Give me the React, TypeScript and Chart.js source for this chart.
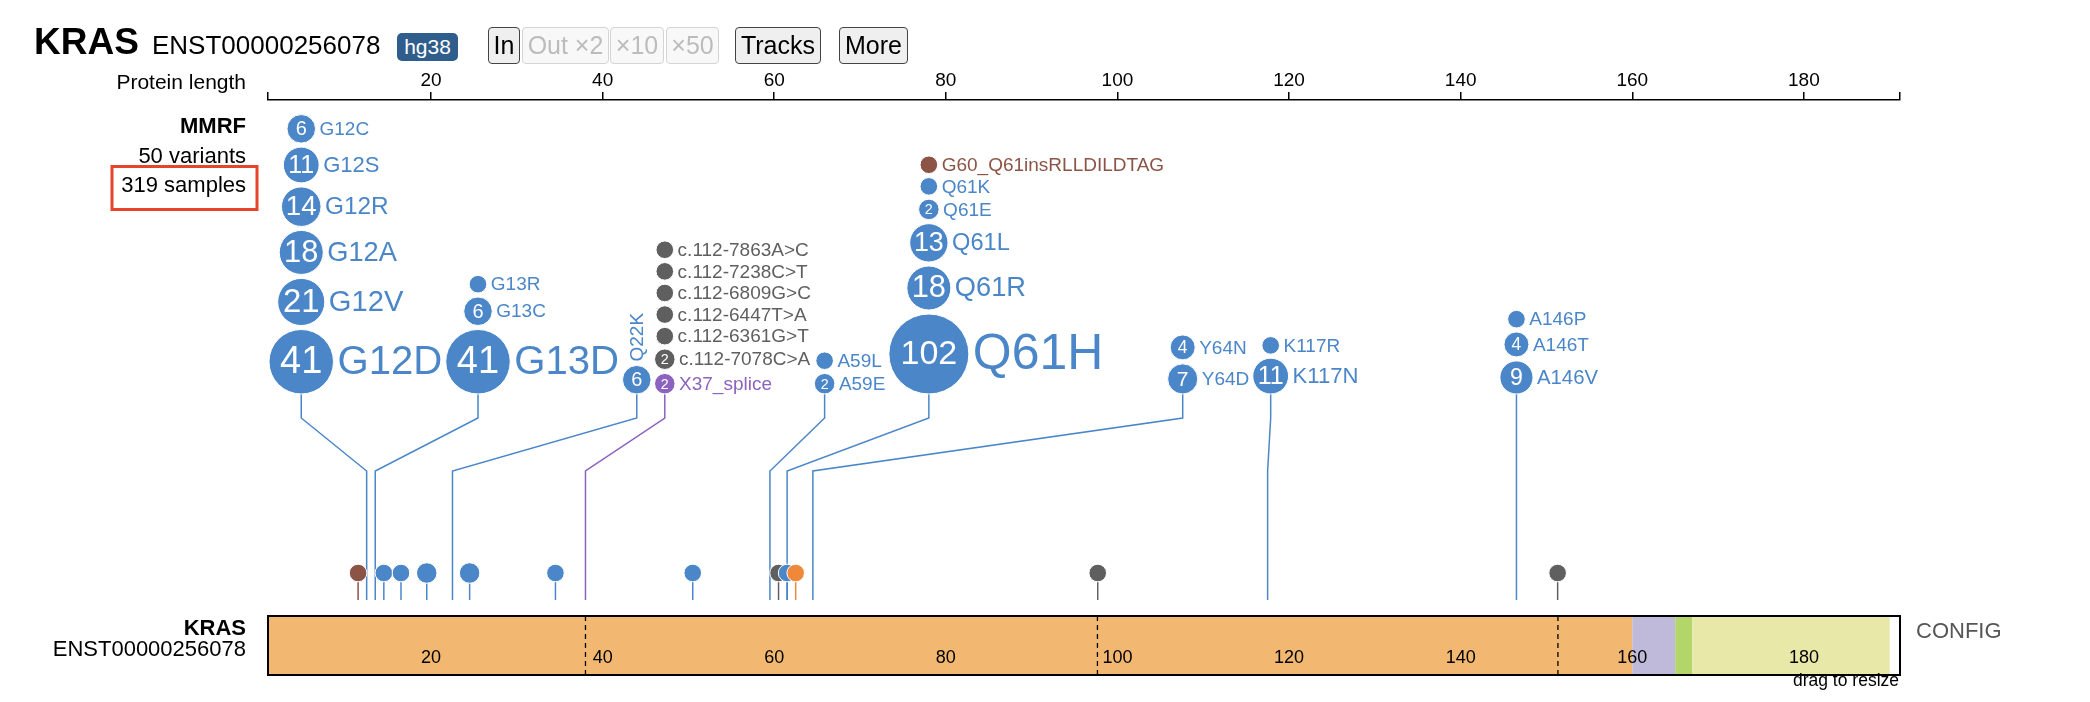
import React, { useEffect, useRef } from 'react';
import { Chart, registerables } from 'chart.js';

Chart.register(...registerables);

const FONT = '"Liberation Sans", Arial, Helvetica, sans-serif';

// ---------------- data ----------------
const gene = 'KRAS';
const transcript = 'ENST00000256078';
const genome = 'hg38';
const trackName = 'MMRF';
const variantTotal = 50;
const sampleTotal = 319;

const axisTicks = [20, 40, 60, 80, 100, 120, 140, 160, 180];
const AXIS_MIN = 1;
const AXIS_MAX = 191.2;

// expanded variants (codon position; splice/intronic ones sit on the exon boundary)
const variantNames = [
  'G12D', 'G12V', 'G12A', 'G12R', 'G12S', 'G12C',
  'G13D', 'G13C', 'G13R',
  'Q22K',
  'X37_splice', 'c.112-7078C>A', 'c.112-6361G>T', 'c.112-6447T>A', 'c.112-6809G>C', 'c.112-7238C>T', 'c.112-7863A>C',
  'A59E', 'A59L',
  'Q61H', 'Q61R', 'Q61L', 'Q61E', 'Q61K', 'G60_Q61insRLLDILDTAG',
  'Y64D', 'Y64N',
  'K117N', 'K117R',
  'A146V', 'A146T', 'A146P',
];
const variantCodons = [
  12, 12, 12, 12, 12, 12,
  13, 13, 13,
  22,
  37.5, 37.5, 37.5, 37.5, 37.5, 37.5, 37.5,
  59, 59,
  61, 61, 61, 61, 61, 61,
  64, 64,
  117, 117,
  146, 146, 146,
];
const variantCounts = [
  41, 21, 18, 14, 11, 6,
  41, 6, 1,
  6,
  2, 2, 1, 1, 1, 1, 1,
  2, 1,
  102, 18, 13, 2, 1, 1,
  7, 4,
  11, 1,
  9, 4, 1,
];
const variantClasses = [
  'M', 'M', 'M', 'M', 'M', 'M',
  'M', 'M', 'M',
  'M',
  'L', 'Intron', 'Intron', 'Intron', 'Intron', 'Intron', 'Intron',
  'M', 'M',
  'M', 'M', 'M', 'M', 'M', 'I',
  'M', 'M',
  'M', 'M',
  'M', 'M', 'M',
];

// collapsed sites on the bottom row
const siteCodons = [11, 14, 16, 19, 24, 34, 50, 60, 61, 62, 97.2, 150.8];
const siteCounts = [1, 1, 1, 2, 2, 1, 1, 1, 1, 1, 1, 1];
const siteClasses = ['I', 'M', 'M', 'M', 'M', 'M', 'M', 'Intron', 'M', 'N', 'Intron', 'Intron'];

// exon boundaries (coding nt)
const exonBoundaryNt = [111, 290, 451];

// protein features (codon ranges)
const domainStarts = [1, 160, 165, 167];
const domainEnds = [159, 164, 166, 189];

// ---------------- styles ----------------
const CLASS_COLOR: Record<string, string> = {
  M: '#4a86c8',
  L: '#8c63be',
  Intron: '#5f5f5f',
  I: '#8b5446',
  N: '#f0883a',
};
const DOMAIN_COLORS = ['#f2b872', '#bfbad9', '#b3d66b', '#e8e8a8'];

const MAX_R = 40;
const LABEL_GAP = 4;
const STACK_GAP = 3.5;
const DISC_GAP = 4;

const L = {
  titleBaseline: 54,
  geneX: 34,
  transcriptX: 152,
  labelRight: 246,
  axisTitleBaseline: 89,
  trackBaselines: [133, 163, 192],
  box: [112, 166.5, 145, 43],
  stackBase: 394,
  kinkTop: 418,
  kinkBottom: 471,
  stemEnd: 600,
  dotY: 573,
  barTop: 616,
  barBottom: 675,
  barLabelBaseline: 663,
  rowBaselines: [635, 656],
  configX: 1916,
  configBaseline: 638,
  dragBaseline: 686,
};

const discRadius = (n: number) => Math.min(MAX_R, 2.83 * Math.pow(n, 0.6) + 5.97);
const labelSize = (r: number) => Math.max(19, 1.26 * r - 0.5);
const numberSize = (r: number, n: number) => {
  const d = String(n).length;
  return Math.min(1.4 * r, 38, ((d >= 3 ? 1.42 : 1.6) * r) / (d * 0.556));
};
const font = (size: number, bold = false) => `${bold ? 'bold ' : ''}${size}px ${FONT}`;

const lollipopPlugin = {
  id: 'lollipop',
  afterDraw(chart: any) {
    const ctx: CanvasRenderingContext2D = chart.ctx;
    const xs = chart.scales.x;
    const px = (codon: number) => xs.getPixelForValue(codon + 0.5);
    const vx = (v: number) => xs.getPixelForValue(v);

    ctx.save();

    // ---------- header text ----------
    ctx.fillStyle = '#000';
    ctx.textBaseline = 'alphabetic';
    ctx.textAlign = 'left';
    ctx.font = font(37, true);
    ctx.fillText(gene, L.geneX, L.titleBaseline);
    ctx.font = font(26);
    ctx.fillText(transcript, L.transcriptX, L.titleBaseline);

    ctx.textAlign = 'right';
    ctx.font = font(21);
    ctx.fillText('Protein length', L.labelRight, L.axisTitleBaseline);

    ctx.font = font(22, true);
    ctx.fillText(trackName, L.labelRight, L.trackBaselines[0]);
    ctx.font = font(22);
    ctx.fillText(`${variantTotal} variants`, L.labelRight, L.trackBaselines[1]);
    ctx.fillText(`${sampleTotal} samples`, L.labelRight, L.trackBaselines[2]);

    ctx.strokeStyle = '#e6452c';
    ctx.lineWidth = 3;
    ctx.strokeRect(L.box[0], L.box[1], L.box[2], L.box[3]);

    // ---------- group layout ----------
    const groupMap = new Map<number, number[]>();
    variantCodons.forEach((c, i) => {
      if (!groupMap.has(c)) groupMap.set(c, []);
      groupMap.get(c)!.push(i);
    });
    const groups = [...groupMap.entries()]
      .sort((a, b) => a[0] - b[0])
      .map(([codon, idx]) => {
        const items = idx.slice().sort((a, b) => variantCounts[b] - variantCounts[a]);
        const rs = items.map((i) => discRadius(variantCounts[i]));
        const rmax = Math.max(...rs);
        const vertical = items.length === 1;
        let extR = rmax;
        if (!vertical) {
          items.forEach((i, k) => {
            ctx.font = font(labelSize(rs[k]));
            extR = Math.max(extR, rs[k] + LABEL_GAP + ctx.measureText(variantNames[i]).width);
          });
        }
        return { codon, items, rs, rmax, vertical, extL: rmax, extR, desired: px(codon), cx: 0 };
      });

    type G = (typeof groups)[number];
    type C = { groups: G[]; left: number; right: number };
    const place = (c: C) => {
      let acc = 0;
      const offs: number[] = [];
      c.groups.forEach((g, i) => {
        if (i > 0) acc += STACK_GAP;
        acc += g.extL;
        offs.push(acc);
        acc += g.extR;
      });
      let left = c.groups.reduce((s, g, i) => s + g.desired - offs[i], 0) / c.groups.length;
      left = Math.max(xs.left + 1, Math.min(left, xs.right - acc));
      c.left = left;
      c.right = left + acc;
      c.groups.forEach((g, i) => (g.cx = left + offs[i]));
    };
    const clusters: C[] = groups.map((g) => ({ groups: [g], left: 0, right: 0 }));
    clusters.forEach(place);
    let merged = true;
    while (merged) {
      merged = false;
      for (let i = 0; i < clusters.length - 1; i++) {
        if (clusters[i].right + STACK_GAP > clusters[i + 1].left) {
          clusters[i].groups.push(...clusters[i + 1].groups);
          clusters.splice(i + 1, 1);
          place(clusters[i]);
          merged = true;
          break;
        }
      }
    }

    // ---------- long stems ----------
    ctx.lineWidth = 1.5;
    groups.forEach((g) => {
      ctx.strokeStyle = CLASS_COLOR[variantClasses[g.items[0]]];
      ctx.beginPath();
      ctx.moveTo(g.cx, L.stackBase);
      ctx.lineTo(g.cx, L.kinkTop);
      ctx.lineTo(g.desired, L.kinkBottom);
      ctx.lineTo(g.desired, L.stemEnd);
      ctx.stroke();
    });

    // ---------- collapsed sites ----------
    siteCodons.forEach((c, i) => {
      const x = px(c);
      const r = discRadius(siteCounts[i]);
      ctx.strokeStyle = CLASS_COLOR[siteClasses[i]];
      ctx.lineWidth = 1.5;
      ctx.beginPath();
      ctx.moveTo(x, L.dotY + r);
      ctx.lineTo(x, L.stemEnd);
      ctx.stroke();
    });
    siteCodons.forEach((c, i) => {
      const x = px(c);
      const r = discRadius(siteCounts[i]);
      ctx.fillStyle = CLASS_COLOR[siteClasses[i]];
      ctx.strokeStyle = '#fff';
      ctx.lineWidth = 1;
      ctx.beginPath();
      ctx.arc(x, L.dotY, r, 0, Math.PI * 2);
      ctx.fill();
      ctx.stroke();
    });

    // ---------- stacked discs ----------
    groups.forEach((g) => {
      let bottom = L.stackBase;
      g.items.forEach((i, k) => {
        const r = g.rs[k];
        const cy = bottom - r;
        bottom = cy - r - DISC_GAP;
        const col = CLASS_COLOR[variantClasses[i]];
        ctx.fillStyle = col;
        ctx.strokeStyle = '#fff';
        ctx.lineWidth = 1;
        ctx.beginPath();
        ctx.arc(g.cx, cy, r, 0, Math.PI * 2);
        ctx.fill();
        ctx.stroke();
        const n = variantCounts[i];
        if (n > 1) {
          ctx.fillStyle = '#fff';
          ctx.font = font(numberSize(r, n));
          ctx.textAlign = 'center';
          ctx.textBaseline = 'middle';
          ctx.fillText(String(n), g.cx, cy + 1);
        }
        ctx.fillStyle = col;
        ctx.font = font(labelSize(r));
        ctx.textBaseline = 'middle';
        if (g.vertical) {
          ctx.save();
          ctx.translate(g.cx, cy - r - LABEL_GAP);
          ctx.rotate(-Math.PI / 2);
          ctx.textAlign = 'left';
          ctx.fillText(variantNames[i], 0, 1);
          ctx.restore();
        } else {
          ctx.textAlign = 'left';
          ctx.fillText(variantNames[i], g.cx + r + LABEL_GAP, cy + 1);
        }
      });
    });

    // ---------- protein bar ----------
    const bx0 = vx(AXIS_MIN);
    const bx1 = vx(AXIS_MAX);
    ctx.fillStyle = '#fff';
    ctx.fillRect(bx0, L.barTop, bx1 - bx0, L.barBottom - L.barTop);
    domainStarts.forEach((s, i) => {
      ctx.fillStyle = DOMAIN_COLORS[i];
      const x0 = vx(s);
      const x1 = vx(domainEnds[i] + 1);
      ctx.fillRect(x0, L.barTop, x1 - x0, L.barBottom - L.barTop);
    });
    ctx.strokeStyle = '#000';
    ctx.lineWidth = 1.3;
    ctx.setLineDash([5, 4]);
    exonBoundaryNt.forEach((nt) => {
      const x = vx(1 + nt / 3);
      ctx.beginPath();
      ctx.moveTo(x, L.barTop);
      ctx.lineTo(x, L.barBottom);
      ctx.stroke();
    });
    ctx.setLineDash([]);
    ctx.lineWidth = 2;
    ctx.strokeRect(bx0, L.barTop, bx1 - bx0, L.barBottom - L.barTop);

    ctx.fillStyle = '#000';
    ctx.font = font(18);
    ctx.textAlign = 'center';
    ctx.textBaseline = 'alphabetic';
    axisTicks.forEach((t) => ctx.fillText(String(t), vx(t), L.barLabelBaseline));

    ctx.textAlign = 'right';
    ctx.font = font(22, true);
    ctx.fillText(gene, L.labelRight, L.rowBaselines[0]);
    ctx.font = font(22);
    ctx.fillText(transcript, L.labelRight, L.rowBaselines[1]);

    ctx.font = font(17.5);
    ctx.fillText('drag to resize', bx1 - 1, L.dragBaseline);

    ctx.textAlign = 'left';
    ctx.fillStyle = '#555';
    ctx.font = font(22);
    ctx.fillText('CONFIG', L.configX, L.configBaseline);

    ctx.restore();
  },
};

const buttonLabels = ['In', 'Out ×2', '×10', '×50', 'Tracks', 'More'];
const buttonEnabled = [true, false, false, false, true, true];
const BUTTON_BOX = [
  [488, 32],
  [522, 87],
  [610, 54],
  [666, 53],
  [735, 86],
  [839, 69],
];

export default function App() {
  const ref = useRef<HTMLCanvasElement>(null);
  useEffect(() => {
    const canvas = ref.current!;
    const chart = new Chart(canvas, {
      type: 'scatter',
      data: { datasets: [] },
      options: {
        responsive: false,
        animation: false,
        events: [],
        layout: { padding: { left: 268, right: 190, top: 60, bottom: 2 } },
        plugins: { legend: { display: false }, tooltip: { enabled: false } },
        scales: {
          x: {
            type: 'linear',
            position: 'top',
            min: AXIS_MIN,
            max: AXIS_MAX,
            afterFit: (s: any) => {
              s.height = 40;
            },
            afterBuildTicks: (s: any) => {
              s.ticks = [AXIS_MIN, ...axisTicks, AXIS_MAX].map((v) => ({ value: v }));
            },
            ticks: {
              autoSkip: false,
              maxRotation: 0,
              minRotation: 0,
              padding: 0,
              color: '#000',
              font: { family: FONT, size: 19 },
              callback: (v: any) => (axisTicks.includes(Number(v)) ? String(v) : ''),
            },
            grid: {
              display: true,
              drawOnChartArea: false,
              drawTicks: true,
              tickLength: 8,
              tickWidth: 1.5,
              tickColor: '#000',
              color: '#000',
              lineWidth: 1.5,
            },
            border: { display: true, color: '#000', width: 1.5 },
          },
          y: { display: false, min: 0, max: 1 },
        },
      } as any,
      plugins: [lollipopPlugin],
    });
    return () => chart.destroy();
  }, []);

  return (
    <div style={{ position: 'fixed', left: 0, top: 0, width: 2090, height: 702, background: '#fff', fontFamily: FONT }}>
      <canvas ref={ref} width={2090} height={702} style={{ position: 'absolute', left: 0, top: 0, width: 2090, height: 702 }} />
      <div
        style={{
          position: 'absolute', left: 397, top: 33, width: 61, height: 28, background: '#2f5e8c', borderRadius: 5,
          color: '#fff', fontSize: 21, display: 'flex', alignItems: 'center', justifyContent: 'center', boxSizing: 'border-box',
        }}
      >
        {genome}
      </div>
      {buttonLabels.map((b, i) => (
        <div
          key={b}
          style={{
            position: 'absolute', left: BUTTON_BOX[i][0], top: 27, width: BUTTON_BOX[i][1], height: 37,
            boxSizing: 'border-box', borderRadius: 4,
            border: buttonEnabled[i] ? '1px solid #444' : '1px solid #d4d4d4',
            background: buttonEnabled[i] ? '#efefef' : '#f8f8f8',
            color: buttonEnabled[i] ? '#000' : '#bcbcbc',
            fontSize: 25, display: 'flex', alignItems: 'center', justifyContent: 'center', whiteSpace: 'nowrap',
          }}
        >
          {b}
        </div>
      ))}
    </div>
  );
}
